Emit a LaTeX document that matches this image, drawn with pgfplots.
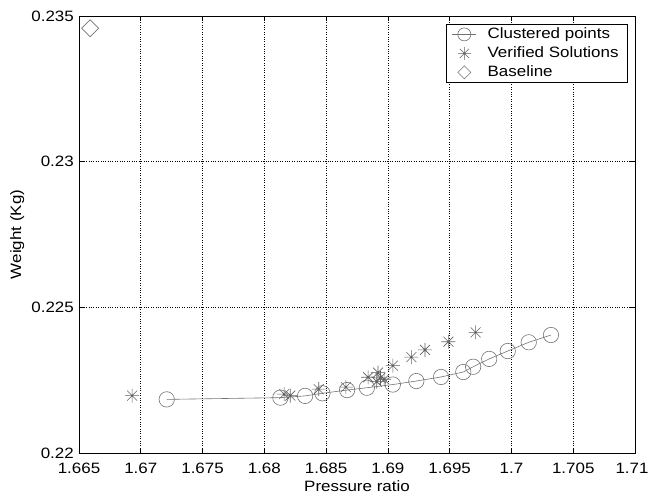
\documentclass[border=0pt]{standalone}
\usepackage{fontspec}
\setmainfont{Liberation Sans}[FakeStretch=1.13]
\usepackage{pgfplots}
\pgfplotsset{compat=1.18}

% MATLAB-like asterisk: plus and cross on top of each other
\pgfdeclareplotmark{mstar}{%
  \pgfpathmoveto{\pgfqpoint{0pt}{\pgfplotmarksize}}%
  \pgfpathlineto{\pgfqpoint{0pt}{-\pgfplotmarksize}}%
  \pgfpathmoveto{\pgfqpoint{\pgfplotmarksize}{0pt}}%
  \pgfpathlineto{\pgfqpoint{-\pgfplotmarksize}{0pt}}%
  \pgfpathmoveto{\pgfqpoint{.707\pgfplotmarksize}{.707\pgfplotmarksize}}%
  \pgfpathlineto{\pgfqpoint{-.707\pgfplotmarksize}{-.707\pgfplotmarksize}}%
  \pgfpathmoveto{\pgfqpoint{.707\pgfplotmarksize}{-.707\pgfplotmarksize}}%
  \pgfpathlineto{\pgfqpoint{-.707\pgfplotmarksize}{.707\pgfplotmarksize}}%
  \pgfusepathqstroke}
% square diamond
\pgfdeclareplotmark{mdiamond}{%
  \pgfpathmoveto{\pgfqpoint{0pt}{\pgfplotmarksize}}%
  \pgfpathlineto{\pgfqpoint{\pgfplotmarksize}{0pt}}%
  \pgfpathlineto{\pgfqpoint{0pt}{-\pgfplotmarksize}}%
  \pgfpathlineto{\pgfqpoint{-\pgfplotmarksize}{0pt}}%
  \pgfpathclose\pgfusepathqstroke}

\definecolor{mgray}{gray}{0.45}
\definecolor{sgray}{gray}{0.38}

\begin{document}
\fontsize{15bp}{18bp}\selectfont
\begin{tikzpicture}
\begin{axis}[
    scale only axis,
    width=556bp, height=437bp,
    xmin=1.665, xmax=1.71,
    ymin=0.22, ymax=0.235,
    xtick={1.665,1.67,1.675,1.68,1.685,1.69,1.695,1.7,1.705,1.71},
    xticklabels={1.665,1.67,1.675,1.68,1.685,1.69,1.695,1.7,1.705,{\hspace*{-6bp}1.71}},
    ytick={0.22,0.225,0.23,0.235},
    yticklabels={0.22,0.225,0.23,0.235},
    grid=major,
    grid style={black, dotted, line width=0.7bp},
    tick align=inside,
    major tick length=5bp,
    tick style={black, line width=0.7bp},
    axis line style={black, line width=0.8bp},
    xlabel={Pressure ratio},
    ylabel={Weight (Kg)},
    xlabel style={at={(axis description cs:0.5,-0.087)}, anchor=base},
    ylabel style={at={(axis description cs:-0.111,0.5)}, anchor=center},
    xticklabel style={anchor=base, yshift=-20bp},
    yticklabel style={anchor=east, inner sep=0bp, xshift=-5bp},
    legend style={at={(0.9874,0.9817)}, anchor=north east,
        draw=black, line width=0.8bp,
        font=\fontsize{15bp}{18bp}\selectfont,
        nodes={inner ysep=2.5bp, inner xsep=3bp, text height=11bp, text depth=3bp},
        row sep=0bp, column sep=8bp, inner xsep=6bp, inner ysep=0.5bp},
    legend cell align=left,
    legend image post style={mark size=6.5bp},
    legend image code/.code={%
        \draw[mark repeat=2,mark phase=2]
        plot coordinates {(0bp,0bp) (12bp,0bp) (24bp,0bp)};},
]

\addplot[mgray, line width=0.6bp, mark=o, mark size=7.7bp,
         mark options={solid, line width=0.6bp}] coordinates {
    (1.6721,0.22184) (1.6813,0.22190) (1.6833,0.22196) (1.6847,0.22205)
    (1.6867,0.22216) (1.6883,0.22224) (1.6904,0.22235) (1.6923,0.22247)
    (1.6943,0.22261) (1.6961,0.22278) (1.6969,0.22296) (1.6982,0.22323)
    (1.6997,0.22350) (1.7014,0.22380) (1.7032,0.22405)
};

\addplot[sgray, only marks, mark=mstar, mark size=7bp,
         mark options={line width=0.6bp}] coordinates {
    (1.6693,0.22197) (1.6816,0.22202) (1.6821,0.22197) (1.6844,0.22219)
    (1.6866,0.22226) (1.6884,0.22260) (1.6892,0.22276) (1.6891,0.22245)
    (1.6897,0.22253) (1.6894,0.22258) (1.6904,0.22300) (1.6919,0.22329)
    (1.6930,0.22354) (1.6949,0.22382) (1.6971,0.22414)
};

\addplot[mgray, only marks, mark=mdiamond, mark size=8.5bp,
         mark options={line width=0.6bp}] coordinates {
    (1.6659,0.23458)
};

\legend{Clustered points, Verified Solutions, Baseline}

\coordinate (sw) at (rel axis cs:0,0);
\coordinate (ne) at (rel axis cs:1,1);
\end{axis}
\pgfresetboundingbox
\path[use as bounding box] ([xshift=-79bp,yshift=-42bp]sw) rectangle ([xshift=14bp,yshift=16bp]ne);
\end{tikzpicture}
\end{document}
